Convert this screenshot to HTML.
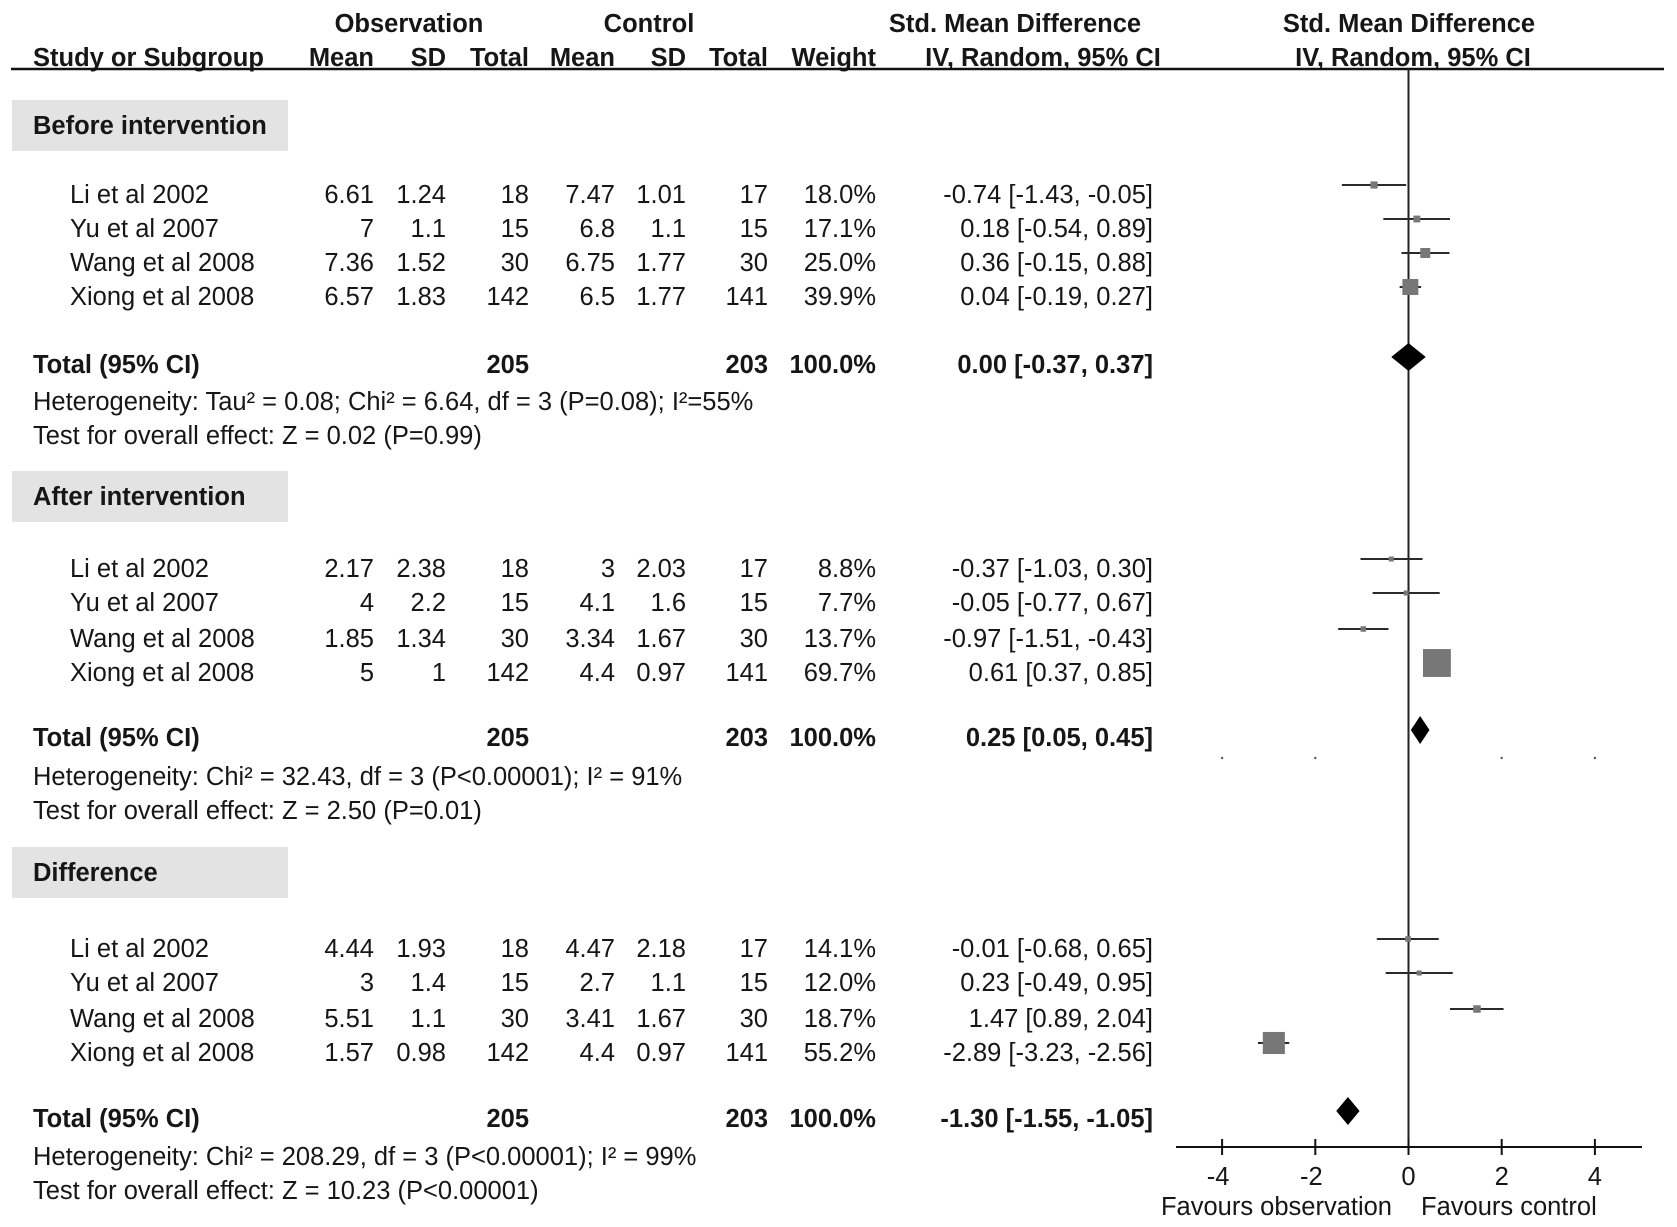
<!DOCTYPE html>
<html><head><meta charset="utf-8">
<style>
html,body{margin:0;padding:0;background:#fff;}
svg{display:block;font-family:"Liberation Sans",Arial,sans-serif;}
text{fill:#161616;font-size:25.5px;}
.b{font-weight:bold;}
</style></head>
<body>
<svg id="chart" width="1677" height="1227" viewBox="0 0 1677 1227" xmlns="http://www.w3.org/2000/svg">
<g>
<text class="b" x="409" y="32" text-anchor="middle">Observation</text>
<text class="b" x="649" y="32" text-anchor="middle">Control</text>
<text class="b" x="1015" y="32" text-anchor="middle">Std. Mean Difference</text>
<text class="b" x="1409" y="32" text-anchor="middle">Std. Mean Difference</text>
<text class="b" x="33" y="66">Study or Subgroup</text>
<text class="b" x="374" y="66" text-anchor="end">Mean</text>
<text class="b" x="446" y="66" text-anchor="end">SD</text>
<text class="b" x="529" y="66" text-anchor="end">Total</text>
<text class="b" x="615" y="66" text-anchor="end">Mean</text>
<text class="b" x="686" y="66" text-anchor="end">SD</text>
<text class="b" x="768" y="66" text-anchor="end">Total</text>
<text class="b" x="876" y="66" text-anchor="end">Weight</text>
<text class="b" x="1043" y="66" text-anchor="middle">IV, Random, 95% CI</text>
<text class="b" x="1413" y="66" text-anchor="middle">IV, Random, 95% CI</text>
<line x1="11" y1="69" x2="1664" y2="69" stroke="#111" stroke-width="2.5"/>
</g>
<g id="body"></g>
</svg>
<script>
const studies = ["Li et al 2002","Yu et al 2007","Wang et al 2008","Xiong et al 2008"];
const groups = ["Before intervention","After intervention","Difference"];
const obsMean = [["6.61","7","7.36","6.57"],["2.17","4","1.85","5"],["4.44","3","5.51","1.57"]];
const obsSD = [["1.24","1.1","1.52","1.83"],["2.38","2.2","1.34","1"],["1.93","1.4","1.1","0.98"]];
const obsN = [18,15,30,142];
const ctrlMean = [["7.47","6.8","6.75","6.5"],["3","4.1","3.34","4.4"],["4.47","2.7","3.41","4.4"]];
const ctrlSD = [["1.01","1.1","1.77","1.77"],["2.03","1.6","1.67","0.97"],["2.18","1.1","1.67","0.97"]];
const ctrlN = [17,15,30,141];
const weights = [[18.0,17.1,25.0,39.9],[8.8,7.7,13.7,69.7],[14.1,12.0,18.7,55.2]];
const smd = [[-0.74,0.18,0.36,0.04],[-0.37,-0.05,-0.97,0.61],[-0.01,0.23,1.47,-2.89]];
const lo = [[-1.43,-0.54,-0.15,-0.19],[-1.03,-0.77,-1.51,0.37],[-0.68,-0.49,0.89,-3.23]];
const hi = [[-0.05,0.89,0.88,0.27],[0.30,0.67,-0.43,0.85],[0.65,0.95,2.04,-2.56]];
const totSmd = [0.00,0.25,-1.30];
const totLo = [-0.37,0.05,-1.55];
const totHi = [0.37,0.45,-1.05];
const hetText = ["Heterogeneity: Tau² = 0.08; Chi² = 6.64, df = 3 (P=0.08); I²=55%","Heterogeneity: Chi² = 32.43, df = 3 (P<0.00001); I² = 91%","Heterogeneity: Chi² = 208.29, df = 3 (P<0.00001); I² = 99%"];
const testText = ["Test for overall effect: Z = 0.02 (P=0.99)","Test for overall effect: Z = 2.50 (P=0.01)","Test for overall effect: Z = 10.23 (P<0.00001)"];
const ticks = [-4,-2,0,2,4];

const NS="http://www.w3.org/2000/svg";
const body=document.getElementById('body');
const x0=1408.5, pxPer=46.6;
function xs(v){return x0+v*pxPer;}
function mk(tag,attrs,parent){const e=document.createElementNS(NS,tag);for(const k in attrs)e.setAttribute(k,attrs[k]);(parent||body).appendChild(e);return e;}
function txt(s,x,y,anchor,bold,parent){const t=mk('text',{x:x,y:y,'text-anchor':anchor||'start'},parent);if(bold)t.setAttribute('class','b');t.textContent=s;return t;}
function f2(v){return (v<0?"-":"")+Math.abs(v).toFixed(2);}

const boxY=[100,471,847];
const rowY=[[194,228,262,296],[568,602,638,672],[948,982,1018,1052]];
const totY=[364,737,1118];
const hetY=[401,776,1156];
const testY=[435,810,1190];
const cols=[374,446,529,615,686,768,876];

const zl=mk('line',{x1:xs(0),y1:69,x2:xs(0),y2:1147,stroke:'#222','stroke-width':2});



for(let g=0;g<3;g++){
  const G=mk('g',{});
  
  
  const r=mk('rect',{x:12,y:boxY[g],width:276,height:51,fill:'#e3e3e3'},G);
  
  
  const lt=txt(groups[g],33,boxY[g]+34,'start',true,G);
  
  
  for(let i=0;i<4;i++){
    const y=rowY[g][i]+9;
    const vals=[obsMean[g][i],obsSD[g][i],obsN[i],ctrlMean[g][i],ctrlSD[g][i],ctrlN[i],weights[g][i].toFixed(1)+"%"];
    const st=txt(studies[i],70,y,'start',false,G);
    
    
    vals.forEach((v,k)=>{const t=txt(String(v),cols[k],y,'end',false,G);
      
      });
    const ci=txt(f2(smd[g][i])+" ["+f2(lo[g][i])+", "+f2(hi[g][i])+"]",1153,y,'end',false,G);
    
    
    const my=rowY[g][i]-9;
    const wl=mk('line',{x1:xs(lo[g][i]),y1:my,x2:xs(hi[g][i]),y2:my,stroke:'#2a2a2a','stroke-width':2},G);
    
    
    const s=Math.max(5,0.4*weights[g][i]);
    const sq=mk('rect',{x:xs(smd[g][i])-s/2,y:my-s/2,width:s,height:s,fill:'#777'},G);
    
    
  }
  const ty=totY[g]+9;
  const tl=txt("Total (95% CI)",33,ty,'start',true,G);
  
  
  [[obsN.reduce((a,b)=>a+b,0),529],[ctrlN.reduce((a,b)=>a+b,0),768],["100.0%",876]].forEach(p=>{
    const t=txt(String(p[0]),p[1],ty,'end',true,G);
    
    });
  const tc=txt(f2(totSmd[g])+" ["+f2(totLo[g])+", "+f2(totHi[g])+"]",1153,ty,'end',true,G);
  
  
  const dy=totY[g]-7, h=14;
  const d=mk('polygon',{points:`${xs(totLo[g])},${dy} ${xs(totSmd[g])},${dy-h} ${xs(totHi[g])},${dy} ${xs(totSmd[g])},${dy+h}`,fill:'#000'},G);
  
  
  const ht=txt(hetText[g],33,hetY[g]+9,'start',false,G);
  
  
  const tt=txt(testText[g],33,testY[g]+9,'start',false,G);
  
  
}
[-4,-2,2,4].forEach(v=>{const c=mk('circle',{cx:xs(v),cy:758,r:1.2,fill:'#555'});
  
  });
const ax=mk('line',{x1:1176,y1:1147,x2:1642,y2:1147,stroke:'#111','stroke-width':2});


ticks.forEach(v=>{
  const tk=mk('line',{x1:xs(v),y1:1139,x2:xs(v),y2:1155,stroke:'#111','stroke-width':2});
  
  
  const tl=txt(String(v),xs(v)-(v<0?4:0),1185,'middle',false);
  
  
});
const f1=txt("Favours observation",1392,1215,'end',false);


const f2l=txt("Favours control",1421,1215,'start',false);


</script>
</body></html>
